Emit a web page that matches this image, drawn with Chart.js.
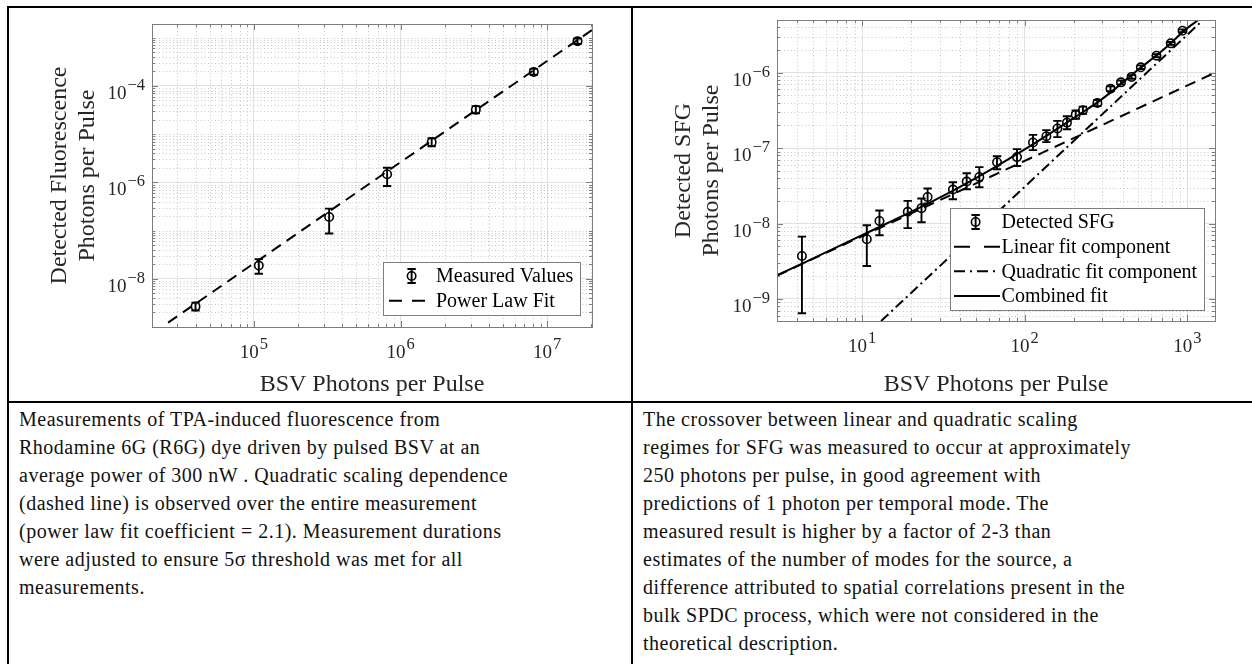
<!DOCTYPE html>
<html><head><meta charset="utf-8">
<script src="https://cdn.jsdelivr.net/npm/chart.js@4"></script>
<style>
html,body{margin:0;padding:0;background:#fff;width:1252px;height:664px;overflow:hidden;position:relative;}
canvas{position:absolute;}
.bl{position:absolute;background:#000;}
.cap{position:absolute;font-family:"Liberation Serif","Times New Roman",serif;font-size:20px;line-height:28px;color:#111;white-space:nowrap;letter-spacing:0.5px;}
</style></head><body>
<canvas id="c1" width="626" height="400" style="left:0px;top:0px"></canvas>
<canvas id="c2" width="620" height="400" style="left:632px;top:0px"></canvas>
<div class="bl" style="left:7px;top:6px;width:1245px;height:2px"></div>
<div class="bl" style="left:7px;top:6px;width:2px;height:658px"></div>
<div class="bl" style="left:631px;top:6px;width:2px;height:658px"></div>
<div class="bl" style="left:7px;top:401px;width:1245px;height:2px"></div>
<div class="cap" style="left:19px;top:405px">Measurements of TPA-induced fluorescence from<br>Rhodamine 6G (R6G) dye driven by pulsed BSV at an<br>average power of 300 nW . Quadratic scaling dependence<br>(dashed line) is observed over the entire measurement<br>(power law fit coefficient = 2.1). Measurement durations<br>were adjusted to ensure 5σ threshold was met for all<br>measurements.</div>
<div class="cap" style="left:643px;top:405px">The crossover between linear and quadratic scaling<br>regimes for SFG was measured to occur at approximately<br>250 photons per pulse, in good agreement with<br>predictions of 1 photon per temporal mode. The<br>measured result is higher by a factor of 2-3 than<br>estimates of the number of modes for the source, a<br>difference attributed to spatial correlations present in the<br>bulk SPDC process, which were not considered in the<br>theoretical description.</div>
<script>
// ---------- Data: TPA fluorescence (left) ----------
const fluorX = [4.0e4, 1.08e5, 3.26e5, 8.1e5, 1.63e6, 3.26e6, 8.1e6, 1.61e7];
const fluorY = [2.67e-9, 1.88e-8, 1.91e-7, 1.47e-6, 6.8e-6, 3.2e-5, 1.95e-4, 8.4e-4];
const fluorErrLow = [2.2e-9, 1.27e-8, 8.7e-8, 8.4e-7, 5.6e-6, 2.7e-5, 1.7e-4, 7.4e-4];
const fluorErrHigh = [3.2e-9, 2.56e-8, 2.85e-7, 2.0e-6, 8.2e-6, 3.8e-5, 2.25e-4, 9.6e-4];
const fluorFitX = [2.6e4, 2.02e7];
const fluorFitY = [1.23e-9, 1.44e-3];
const fluorXTicks = [1e5, 1e6, 1e7];
const fluorYTicks = [1e-8, 1e-6, 1e-4];

// ---------- Data: SFG (right) ----------
const sfgX = [4.27, 10.7, 12.8, 19.1, 23.2, 25.3, 36.2, 44.0, 52.6, 67.6, 89.7, 112.5, 136, 159, 182, 206, 228, 280, 337, 391, 454, 518, 646, 791, 934];
const sfgY = [3.72e-9, 6.19e-9, 1.08e-8, 1.43e-8, 1.60e-8, 2.25e-8, 2.82e-8, 3.6e-8, 4.15e-8, 6.5e-8, 7.6e-8, 1.19e-7, 1.44e-7, 1.82e-7, 2.18e-7, 2.78e-7, 3.18e-7, 3.96e-7, 6.14e-7, 7.45e-7, 8.8e-7, 1.18e-6, 1.68e-6, 2.45e-6, 3.6e-6];
const sfgErrLow = [6.45e-10, 2.74e-9, 7.0e-9, 8.7e-9, 1.04e-8, 1.84e-8, 2.1e-8, 2.85e-8, 3.03e-8, 5.25e-8, 5.8e-8, 9.4e-8, 1.2e-7, 1.4e-7, 1.78e-7, 2.45e-7, 2.85e-7, 3.6e-7, 5.7e-7, 7.0e-7, 8.3e-7, 1.12e-6, 1.6e-6, 2.35e-6, 3.45e-6];
const sfgErrHigh = [6.7e-9, 9.5e-9, 1.49e-8, 2.0e-8, 2.15e-8, 2.91e-8, 3.53e-8, 4.65e-8, 5.6e-8, 7.8e-8, 9.7e-8, 1.5e-7, 1.73e-7, 2.3e-7, 2.65e-7, 3.15e-7, 3.55e-7, 4.35e-7, 6.6e-7, 7.9e-7, 9.3e-7, 1.25e-6, 1.76e-6, 2.55e-6, 3.75e-6];
const linFitX = [3.0, 1480];
const linFitY = [2.04e-9, 1.0e-6];
const quadFitX = [13.1, 1250];
const quadFitY = [5.1e-10, 5.0e-6];
const combFitX = [3, 10, 30, 60, 100, 200, 300, 500, 700, 1000, 1170];
const combFitY = [2.05e-9, 7.0e-9, 2.2e-8, 5.0e-8, 9.6e-8, 2.5e-7, 4.5e-7, 1.1e-6, 1.95e-6, 3.9e-6, 5.0e-6];
const sfgXTicks = [1e1, 1e2, 1e3];
const sfgYTicks = [1e-9, 1e-8, 1e-7, 1e-6];

const SERIF = '"Liberation Serif","Times New Roman",serif';
const TXT = '#262626';
const pts = (xs, ys) => xs.map((x,i)=>({x:x, y:ys[i]}));

function minorVals(min, max, majors){
  const out=[];
  for(let d=Math.floor(Math.log10(min)); d<=Math.ceil(Math.log10(max)); d++){
    for(let k=1;k<10;k++){
      const v=k*Math.pow(10,d);
      if(v>min && v<max && !majors.some(m=>Math.abs(m-v)/m<1e-6)) out.push(v);
    }
  }
  return out;
}

// draws "10" with a raised exponent
function drawPow(ctx, v, x, base, align){
  const e = String(Math.round(Math.log10(v))).replace('-', '\u2212');
  ctx.font = '19px ' + SERIF; const wb = ctx.measureText('10').width;
  ctx.font = '16.5px ' + SERIF; const we = ctx.measureText(e).width;
  const x0 = align === 'right' ? x - wb - we - 1 : x - (wb + we + 1)/2;
  ctx.fillStyle = TXT; ctx.textAlign = 'left'; ctx.textBaseline = 'alphabetic';
  ctx.font = '19px ' + SERIF; ctx.fillText('10', x0, base);
  ctx.font = '16.5px ' + SERIF; ctx.fillText(e, x0 + wb + 1, base - 9);
}

const decor = {
  id:'decor',
  beforeDatasetsDraw(chart, args, opts){
    const {ctx, chartArea:a} = chart;
    const xs = chart.scales.x, ys = chart.scales.y;
    ctx.save();
    ctx.strokeStyle = '#c8c8c8'; ctx.lineWidth = 1; ctx.setLineDash([1,2.5]);
    minorVals(xs.min, xs.max, opts.xMajors).forEach(v=>{
      const p = Math.round(xs.getPixelForValue(v))+0.5;
      ctx.beginPath(); ctx.moveTo(p, a.top); ctx.lineTo(p, a.bottom); ctx.stroke();
    });
    minorVals(ys.min, ys.max, opts.yMajors).forEach(v=>{
      const p = Math.round(ys.getPixelForValue(v))+0.5;
      ctx.beginPath(); ctx.moveTo(a.left, p); ctx.lineTo(a.right, p); ctx.stroke();
    });
    ctx.restore();
  },
  afterDatasetsDraw(chart, args, opts){
    const {ctx, chartArea:a} = chart;
    const xs = chart.scales.x, ys = chart.scales.y;
    // error bars
    ctx.save();
    ctx.beginPath(); ctx.rect(a.left, a.top, a.right-a.left, a.bottom-a.top); ctx.clip();
    chart.data.datasets.forEach((ds)=>{
      if(!ds.errLow) return;
      ctx.strokeStyle='#000'; ctx.lineWidth=1.9; ctx.setLineDash([]);
      ds.data.forEach((p,j)=>{
        const x = xs.getPixelForValue(p.x);
        const yl = ys.getPixelForValue(ds.errLow[j]), yh = ys.getPixelForValue(ds.errHigh[j]);
        ctx.beginPath();
        ctx.moveTo(x, yl); ctx.lineTo(x, yh);
        ctx.moveTo(x-4.2, yl); ctx.lineTo(x+4.2, yl);
        ctx.moveTo(x-4.2, yh); ctx.lineTo(x+4.2, yh);
        ctx.stroke();
      });
    });
    ctx.restore();
    // frame + tick marks
    ctx.save();
    ctx.strokeStyle='#7d7d7d'; ctx.lineWidth=1; ctx.setLineDash([]);
    ctx.strokeRect(Math.round(a.left)+0.5, Math.round(a.top)+0.5, Math.round(a.right-a.left), Math.round(a.bottom-a.top));
    const tick = (v, isX, len)=>{
      if(isX){ const p=Math.round(xs.getPixelForValue(v))+0.5;
        ctx.beginPath(); ctx.moveTo(p,a.bottom); ctx.lineTo(p,a.bottom-len); ctx.moveTo(p,a.top); ctx.lineTo(p,a.top+len); ctx.stroke(); }
      else { const p=Math.round(ys.getPixelForValue(v))+0.5;
        ctx.beginPath(); ctx.moveTo(a.left,p); ctx.lineTo(a.left+len,p); ctx.moveTo(a.right,p); ctx.lineTo(a.right-len,p); ctx.stroke(); }
    };
    opts.xMajors.forEach(v=>tick(v,true,6));
    opts.yMajors.forEach(v=>tick(v,false,6));
    minorVals(xs.min, xs.max, opts.xMajors).forEach(v=>tick(v,true,3));
    minorVals(ys.min, ys.max, opts.yMajors).forEach(v=>tick(v,false,3));
    ctx.restore();
    // tick labels from the library's tick list
    ctx.save();
    xs.ticks.forEach(t=>drawPow(ctx, t.value, xs.getPixelForValue(t.value), a.bottom + 30.5, 'center'));
    ys.ticks.forEach(t=>drawPow(ctx, t.value, a.left - 7, ys.getPixelForValue(t.value) + 13, 'right'));
    ctx.restore();
    // legend
    const L = opts.legend;
    ctx.save();
    ctx.font = '20px ' + SERIF;
    const items = chart.data.datasets;
    let maxW = 0; items.forEach(ds=>{ maxW = Math.max(maxW, ctx.measureText(ds.label).width); });
    const w = L.textX + maxW + 7, h = items.length*L.rowH + 3.3;
    const bx = Math.round(a.right - L.inset - w), by = Math.round(a.bottom - L.inset - h);
    ctx.fillStyle='#fff'; ctx.fillRect(bx, by, w, h);
    ctx.strokeStyle='#7d7d7d'; ctx.lineWidth=1; ctx.strokeRect(bx+0.5, by+0.5, Math.round(w), Math.round(h));
    items.forEach((ds,i)=>{
      const cy = by + 1.6 + L.rowH/2 + i*L.rowH;
      ctx.strokeStyle='#000';
      if(ds.errLow){
        const mx = bx + L.markerX;
        ctx.lineWidth=1.9; ctx.setLineDash([]);
        ctx.beginPath(); ctx.moveTo(mx, cy-7); ctx.lineTo(mx, cy+7);
        ctx.moveTo(mx-4.2, cy-7); ctx.lineTo(mx+4.2, cy-7); ctx.moveTo(mx-4.2, cy+7); ctx.lineTo(mx+4.2, cy+7); ctx.stroke();
        ctx.lineWidth=1.6; ctx.beginPath(); ctx.arc(mx, cy, 4.2, 0, Math.PI*2); ctx.stroke();
      } else {
        ctx.lineWidth = ds.borderWidth; ctx.setLineDash(ds.legendDash || []);
        ctx.beginPath(); ctx.moveTo(bx + L.s0, cy); ctx.lineTo(bx + L.s1, cy); ctx.stroke();
      }
      ctx.setLineDash([]);
      ctx.fillStyle='#000'; ctx.textBaseline='middle'; ctx.textAlign='left';
      ctx.fillText(ds.label, bx + L.textX, cy+1);
    });
    ctx.restore();
  }
};
Chart.register(decor);

function axis(min, max, majors, opts){
  return Object.assign({
    type:'logarithmic', min:min, max:max,
    afterBuildTicks: s=>{ s.ticks = majors.map(v=>({value:v})); },
    ticks:{ display:false, autoSkip:false, maxRotation:0 },
    grid:{ color:'#e1e1e1', drawTicks:false, lineWidth:1 },
    border:{ display:false }
  }, opts);
}

const markerDs = (label, xs, ys, lo, hi) => ({
  label, data: pts(xs, ys), errLow: lo, errHigh: hi, showLine:false,
  pointStyle:'circle', pointRadius:4.2, pointBorderWidth:1.6, pointBorderColor:'#000',
  pointBackgroundColor:'rgba(0,0,0,0)', borderColor:'#000', order:0
});
const lineDs = (label, xs, ys, dash, legendDash, extra) => Object.assign({
  label, data: pts(xs, ys), showLine:true, pointRadius:0, borderColor:'#000', borderWidth:2,
  borderDash: dash, legendDash: legendDash, fill:false, order:1
}, extra||{});

const titleFont = {family:SERIF, size:24, lineHeight:1.15};

new Chart(document.getElementById('c1'), {
  type:'scatter',
  data:{ datasets:[
    markerDs('Measured Values', fluorX, fluorY, fluorErrLow, fluorErrHigh),
    lineDs('Power Law Fit', fluorFitX, fluorFitY, [11,7], [13,10])
  ]},
  options:{
    responsive:false, animation:false, devicePixelRatio:1,
    layout:{ padding:{top:24, right:34, left:0, bottom:0}, autoPadding:false },
    scales:{
      x: axis(2.02e4, 2.02e7, fluorXTicks, {
        afterFit: s=>{ s.height = 73; },
        title:{ display:true, text:'BSV Photons per Pulse', font:titleFont, color:TXT, padding:{top:0, bottom:1} }
      }),
      y: axis(1.0e-9, 1.92e-3, fluorYTicks, {
        afterFit: s=>{ s.width = 152; },
        title:{ display:true, text:['Detected Fluorescence','Photons per Pulse'], font:titleFont, color:TXT, padding:{top:46, bottom:0} }
      })
    },
    plugins:{ legend:{display:false}, tooltip:{enabled:false},
      decor:{ xMajors:fluorXTicks, yMajors:fluorYTicks,
        legend:{ rowH:24.7, inset:12, textX:53, markerX:28.6, s0:6, s1:42 } } }
  }
});

new Chart(document.getElementById('c2'), {
  type:'scatter',
  data:{ datasets:[
    markerDs('Detected SFG', sfgX, sfgY, sfgErrLow, sfgErrHigh),
    lineDs('Linear fit component', linFitX, linFitY, [11,7], [16,14]),
    lineDs('Quadratic fit component', quadFitX, quadFitY, [10,4,2,4], [11,5,2,5]),
    lineDs('Combined fit', combFitX, combFitY, [], [], {cubicInterpolationMode:'monotone'})
  ]},
  options:{
    responsive:false, animation:false, devicePixelRatio:1,
    layout:{ padding:{top:20, right:37, left:0, bottom:0}, autoPadding:false },
    scales:{
      x: axis(3.0, 1480, sfgXTicks, {
        afterFit: s=>{ s.height = 79; },
        title:{ display:true, text:'BSV Photons per Pulse', font:titleFont, color:TXT, padding:{top:0, bottom:1} }
      }),
      y: axis(5.1e-10, 5.0e-6, sfgYTicks, {
        afterFit: s=>{ s.width = 145; },
        title:{ display:true, text:['Detected SFG','Photons per Pulse'], font:titleFont, color:TXT, padding:{top:38, bottom:0} }
      })
    },
    plugins:{ legend:{display:false}, tooltip:{enabled:false},
      decor:{ xMajors:sfgXTicks, yMajors:sfgYTicks,
        legend:{ rowH:24.7, inset:11, textX:51.6, markerX:25.6, s0:4, s1:50 } } }
  }
});
</script>
</body></html>
